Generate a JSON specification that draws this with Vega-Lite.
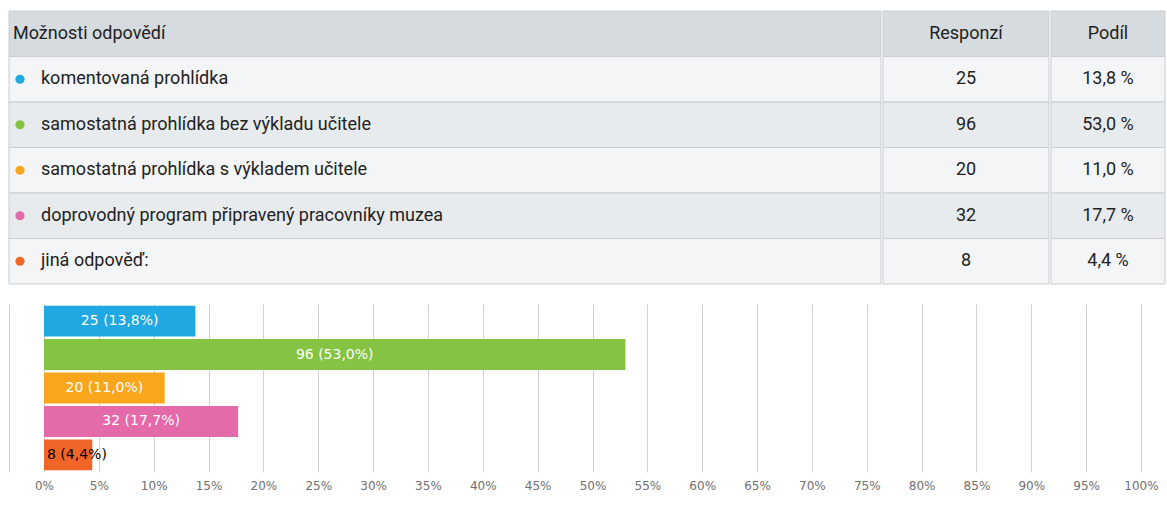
{
  "$schema": "https://vega.github.io/schema/vega-lite/v6.json",
  "background": "white",
  "padding": {"left": 8, "top": 10, "right": 0, "bottom": 0},
  "autosize": {"type": "pad"},
  "config": {"view": {"stroke": null}},
  "datasets": {
    "rows": [
      {"row": 0, "option": "Možnosti odpovědí", "count": "Responzí", "share": "Podíl"},
      {"row": 1, "option": "komentovaná prohlídka", "count": 25, "pct": 13.8, "share": "13,8 %", "label": "25 (13,8%)"},
      {"row": 2, "option": "samostatná prohlídka bez výkladu učitele", "count": 96, "pct": 53.0, "share": "53,0 %", "label": "96 (53,0%)"},
      {"row": 3, "option": "samostatná prohlídka s výkladem učitele", "count": 20, "pct": 11.0, "share": "11,0 %", "label": "20 (11,0%)"},
      {"row": 4, "option": "doprovodný program připravený pracovníky muzea", "count": 32, "pct": 17.7, "share": "17,7 %", "label": "32 (17,7%)"},
      {"row": 5, "option": "jiná odpověď:", "count": 8, "pct": 4.4, "share": "4,4 %", "label": "8 (4,4%)"}
    ]
  },
  "data": {"name": "rows"},
  "spacing": 19,
  "vconcat": [
    {
      "spacing": 0,
      "hconcat": [
        {
          "width": 872,
          "height": 273,
          "encoding": {
            "y": {"field": "row", "type": "ordinal", "scale": {"domain": [0, 1, 2, 3, 4, 5], "paddingInner": 0, "paddingOuter": 0}, "axis": null}
          },
          "layer": [
            {
              "mark": {"type": "rect", "stroke": "#c8ced2", "strokeWidth": 1},
              "encoding": {
                "x": {"value": 0},
                "x2": {"value": "width"},
                "fill": {"condition": [{"test": "datum.row == 0", "value": "#d5dbde"}, {"test": "datum.row % 2 == 0", "value": "#e8ebed"}], "value": "#f4f5f6"}
              }
            },
            {
              "transform": [{"filter": "datum.row > 0"}],
              "mark": {"type": "point", "filled": true, "size": 85, "opacity": 1},
              "encoding": {
                "x": {"value": 11},
                "color": {
                  "field": "option", "type": "nominal", "legend": null,
                  "scale": {
                    "domain": ["komentovaná prohlídka", "samostatná prohlídka bez výkladu učitele", "samostatná prohlídka s výkladem učitele", "doprovodný program připravený pracovníky muzea", "jiná odpověď:"],
                    "range": ["#1fa8e1", "#85c343", "#f9a61c", "#e46aa9", "#f26529"]
                  }
                }
              }
            },
            {
              "transform": [{"filter": "datum.row == 0"}],
              "mark": {"type": "text", "align": "left", "font": "Roboto", "fontSize": 18, "color": "#222222"},
              "encoding": {"x": {"value": 4}, "text": {"field": "option", "type": "nominal"}}
            },
            {
              "transform": [{"filter": "datum.row > 0"}],
              "mark": {"type": "text", "align": "left", "font": "Roboto", "fontSize": 18, "color": "#222222"},
              "encoding": {"x": {"value": 32}, "text": {"field": "option", "type": "nominal"}}
            }
          ]
        },
        {
          "width": 166,
          "height": 273,
          "encoding": {
            "y": {"field": "row", "type": "ordinal", "scale": {"domain": [0, 1, 2, 3, 4, 5], "paddingInner": 0, "paddingOuter": 0}, "axis": null}
          },
          "layer": [
            {
              "mark": {"type": "rect", "stroke": "#c8ced2", "strokeWidth": 1},
              "encoding": {
                "x": {"value": 0},
                "x2": {"value": "width"},
                "fill": {"condition": [{"test": "datum.row == 0", "value": "#d5dbde"}, {"test": "datum.row % 2 == 0", "value": "#e8ebed"}], "value": "#f4f5f6"}
              }
            },
            {
              "mark": {"type": "text", "align": "center", "font": "Roboto", "fontSize": 18, "color": "#222222"},
              "encoding": {"x": {"value": 83}, "text": {"field": "count", "type": "nominal"}}
            }
          ]
        },
        {
          "width": 114,
          "height": 273,
          "encoding": {
            "y": {"field": "row", "type": "ordinal", "scale": {"domain": [0, 1, 2, 3, 4, 5], "paddingInner": 0, "paddingOuter": 0}, "axis": null}
          },
          "layer": [
            {
              "mark": {"type": "rect", "stroke": "#c8ced2", "strokeWidth": 1},
              "encoding": {
                "x": {"value": 0},
                "x2": {"value": "width"},
                "fill": {"condition": [{"test": "datum.row == 0", "value": "#d5dbde"}, {"test": "datum.row % 2 == 0", "value": "#e8ebed"}], "value": "#f4f5f6"}
              }
            },
            {
              "mark": {"type": "text", "align": "center", "font": "Roboto", "fontSize": 18, "color": "#222222"},
              "encoding": {"x": {"value": 57}, "text": {"field": "share", "type": "nominal"}}
            }
          ]
        }
      ]
    },
    {
      "spacing": 0,
      "bounds": "flush",
      "hconcat": [
        {
          "width": 35,
          "height": 168,
          "transform": [{"filter": "datum.row > 0"}],
          "mark": {"type": "point", "opacity": 0},
          "encoding": {
            "y": {
              "field": "row", "type": "ordinal",
              "axis": {"labels": false, "ticks": false, "title": null, "grid": false, "domain": true, "domainColor": "#cfcfcf"}
            }
          }
        },
        {
          "width": 1097,
          "height": 168,
          "transform": [{"filter": "datum.row > 0"}],
          "encoding": {
            "y": {
              "field": "row", "type": "ordinal",
              "scale": {"paddingInner": 0.075, "paddingOuter": 0.05},
              "axis": null
            }
          },
          "layer": [
            {
              "mark": {"type": "bar"},
              "encoding": {
                "x": {
                  "field": "pct", "type": "quantitative",
                  "scale": {"domain": [0, 100], "nice": false},
                  "axis": {
                    "values": [0, 5, 10, 15, 20, 25, 30, 35, 40, 45, 50, 55, 60, 65, 70, 75, 80, 85, 90, 95, 100],
                    "labelExpr": "datum.value + '%'",
                    "domain": false, "ticks": false, "grid": true, "gridColor": "#d0d0d0",
                    "labelColor": "#707070", "labelFont": "DejaVu Sans", "labelFontSize": 12,
                    "labelPadding": 8, "labelFlush": false, "title": null
                  }
                },
                "color": {
                  "field": "option", "type": "nominal", "legend": null,
                  "scale": {
                    "domain": ["komentovaná prohlídka", "samostatná prohlídka bez výkladu učitele", "samostatná prohlídka s výkladem učitele", "doprovodný program připravený pracovníky muzea", "jiná odpověď:"],
                    "range": ["#1fa8e1", "#85c343", "#f9a61c", "#e46aa9", "#f26529"]
                  }
                }
              }
            },
            {
              "transform": [{"filter": "datum.pct >= 10"}],
              "mark": {"type": "text", "align": "center", "color": "white", "font": "DejaVu Sans", "fontSize": 14},
              "encoding": {
                "x": {"field": "pct", "type": "quantitative", "scale": {"domain": [0, 200], "nice": false}, "axis": null},
                "text": {"field": "label", "type": "nominal"}
              }
            },
            {
              "transform": [{"filter": "datum.pct < 10"}],
              "mark": {"type": "text", "align": "left", "dx": 3, "color": "black", "font": "DejaVu Sans", "fontSize": 14},
              "encoding": {
                "x": {"datum": 0, "type": "quantitative", "scale": {"domain": [0, 100], "nice": false}, "axis": null},
                "text": {"field": "label", "type": "nominal"}
              }
            }
          ],
          "resolve": {"scale": {"x": "independent"}}
        }
      ]
    }
  ]
}
